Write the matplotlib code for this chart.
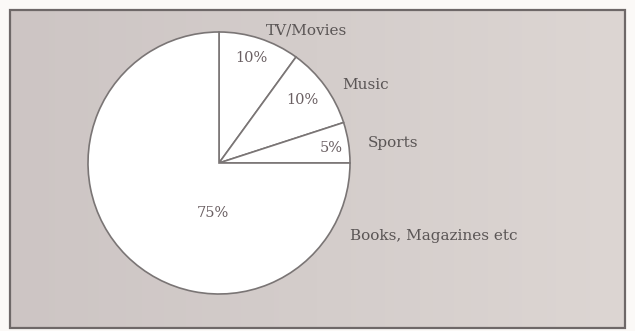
import matplotlib.pyplot as plt
import numpy as np
from matplotlib.patches import Rectangle

# data #
########

categories = ['TV/Movies', 'Music', 'Sports', 'Books, Magazines etc']
shares = [10, 10, 5, 75]
pct_labels = ['10%', '10%', '5%', '75%']

# layout (pixel coords, y measured from bottom) #
#################################################

W, H = 635, 331
center = (219, 168)
radius = 131
name_pos = [(306, 301, 'center'), (342, 246, 'left'),
            (368, 188, 'left'), (350, 95, 'left')]
pct_pos = [(251, 273), (302, 231), (331, 183), (213, 118)]

txt_col = '#5a5555'
serif = ['DejaVu Serif']

fig = plt.figure(figsize=(W / 100, H / 100), dpi=100)
fig.patch.set_facecolor('#fbf9f7')
ax = fig.add_axes([0, 0, 1, 1])

# background panel with a soft left-to-right gradient
grad = np.linspace(0, 1, 256).reshape(1, -1)
ax.imshow(grad, extent=(10, 625, 3, 321), aspect='auto', zorder=0,
          cmap=plt.matplotlib.colors.LinearSegmentedColormap.from_list(
              'bg', ['#cdc5c4', '#d4cdcb', '#ddd6d3']))
ax.add_patch(Rectangle((10, 3), 615, 318, fill=False, edgecolor='#6e6868',
                       linewidth=1.6, zorder=1))

wedges, _ = ax.pie(shares, startangle=90, counterclock=False,
                   center=center, radius=radius, frame=True,
                   colors=['white'] * len(shares),
                   wedgeprops=dict(edgecolor='#7a7575', linewidth=1.2))
for w in wedges:
    w.set_zorder(2)
ax.set_xlim(0, W)
ax.set_ylim(0, H)
ax.set_aspect('equal')
ax.axis('off')

for (x, y, ha), name in zip(name_pos, categories):
    ax.text(x, y, name, ha=ha, va='center', fontsize=11,
            color=txt_col, family=serif, zorder=3)
for (x, y), p in zip(pct_pos, pct_labels):
    ax.text(x, y, p, ha='center', va='center', fontsize=10.5,
            color='#6a5f62', family=serif, zorder=3)

fig.savefig('out.png', dpi=100, facecolor=fig.get_facecolor())
